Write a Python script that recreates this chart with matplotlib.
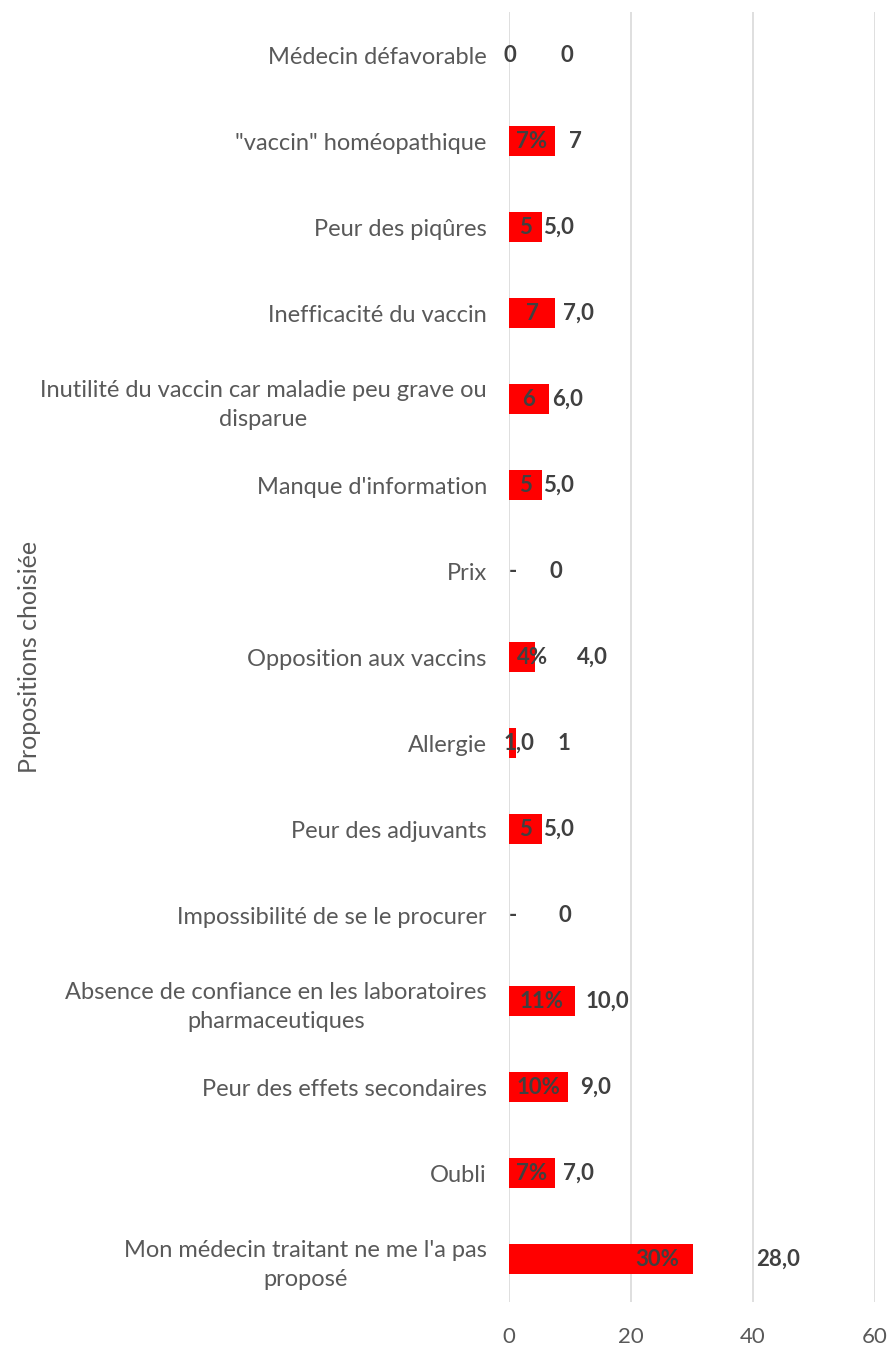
import matplotlib
matplotlib.use("Agg")
import matplotlib.pyplot as plt

plt.rcParams['font.family'] = ['Lato', 'DejaVu Sans']

# bottom-to-top order
categories = [
    "Mon médecin traitant ne me l'a pas\nproposé",
    "Oubli",
    "Peur des effets secondaires",
    "Absence de confiance en les laboratoires\npharmaceutiques",
    "Impossibilité de se le procurer",
    "Peur des adjuvants",
    "Allergie",
    "Opposition aux vaccins",
    "Prix",
    "Manque d'information",
    "Inutilité du vaccin car maladie peu grave ou\ndisparue",
    "Inefficacité du vaccin",
    "Peur des piqûres",
    "\"vaccin\" homéopathique",
    "Médecin défavorable",
]
bar_values = [30.1, 7.5, 9.7, 10.8, 0, 5.4, 1.1, 4.3, 0, 5.4, 6.5, 7.5, 5.4, 7.5, 0]
inner_labels = ["30%", "7%", "10%", "11%", "-", "5", "1,0", "4%", "-", "5", "6", "7", "5", "7%", "0"]
outer_labels = ["28,0", "7,0", "9,0", "10,0", "0", "5,0", "1", "4,0", "0", "5,0", "6,0", "7,0", "5,0", "7", "0"]
outer_label_x = [40.5, 8.8, 11.6, 12.6, 8.1, 5.6, 8.0, 11.1, 6.6, 5.6, 7.1, 8.8, 5.6, 9.8, 8.4]
x_ticks = [0, 20, 40, 60]

fig = plt.figure(figsize=(8.9, 13.47), dpi=100)
ax = fig.add_axes([0.572, 0.0334, 0.983 - 0.572, 0.991 - 0.0334])

pos = list(range(len(categories)))
ax.barh(pos, bar_values, height=0.34, color="#ff0000", zorder=2)

txt_color = "#404040"
fs_lab = 16
for i, (v, lab) in enumerate(zip(bar_values, inner_labels)):
    if v > 20:
        ax.text(v - 2.2, i, lab, ha="right", va="center", fontsize=fs_lab,
                fontweight="bold", color=txt_color, zorder=3)
    elif v == 0:
        x = 0.7 if lab == "-" else 0.1
        ax.text(x, i, lab, ha="center", va="center", fontsize=fs_lab,
                fontweight="bold", color=txt_color, zorder=3)
    else:
        x = v / 2 if v > 2 else 1.6
        if lab == "4%":
            x = 3.8
        ax.text(x, i, lab, ha="center", va="center", fontsize=fs_lab,
                fontweight="bold", color=txt_color, zorder=3)

for i, (lab, x) in enumerate(zip(outer_labels, outer_label_x)):
    ax.text(x, i, lab, ha="left", va="center", fontsize=fs_lab,
            fontweight="bold", color=txt_color, zorder=3)

ax.set_xlim(0, 60)
ax.set_ylim(-0.5, len(categories) - 0.5)
ax.set_xticks(x_ticks)
ax.set_yticks(pos)
ax.set_yticklabels(categories, multialignment="center", linespacing=1.45)
ax.tick_params(axis="both", length=0, labelsize=17, colors="#595959")
ax.tick_params(axis="x", labelsize=16, pad=18)
ax.tick_params(axis="y", pad=16)
for s in ax.spines.values():
    s.set_visible(False)
ax.grid(axis="x", color="#d9d9d9", linewidth=1.2, zorder=0)
ax.set_axisbelow(True)

fig.text(0.033, 0.512, "Propositions choisiée", rotation=90, ha="center", va="center",
         fontsize=18, color="#595959")

fig.savefig("out.png", dpi=100)
